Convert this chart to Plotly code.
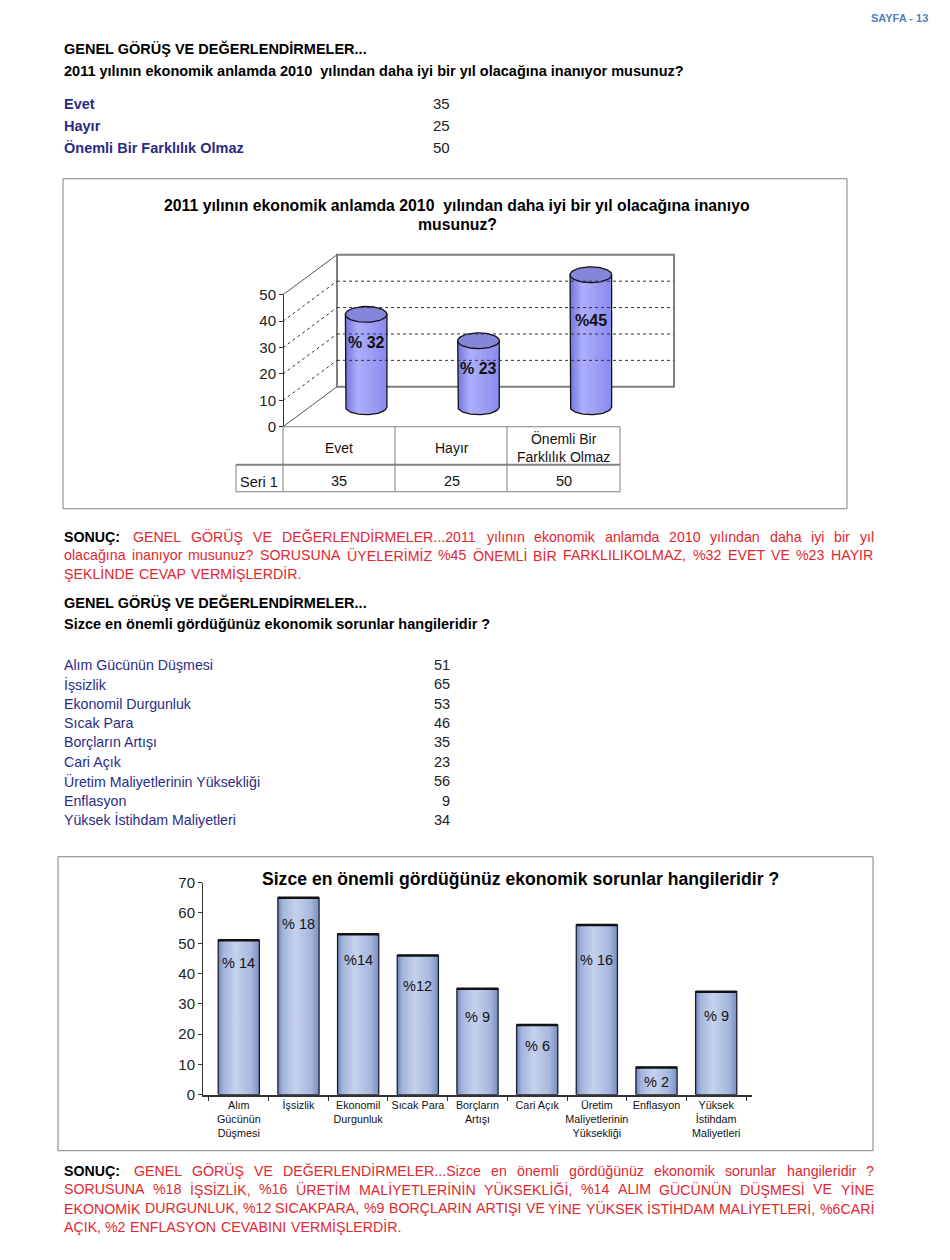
import numpy as np
import plotly.graph_objects as go

# ---- data ----
answers = ["Evet", "Hayır", "Önemli Bir Farklılık Olmaz"]
answer_cells = ["Evet", "Hayır", "Önemli Bir<br>Farklılık Olmaz"]
answer_values = [35, 25, 50]
answer_pct = ["% 32", "% 23", "%45"]

problems = ["Alım Gücünün Düşmesi", "İşsizlik", "Ekonomil Durgunluk", "Sıcak Para",
            "Borçların Artışı", "Cari Açık", "Üretim Maliyetlerinin Yüksekliği",
            "Enflasyon", "Yüksek İstihdam Maliyetleri"]
problem_ticks = ["Alım<br>Gücünün<br>Düşmesi", "İşsizlik", "Ekonomil<br>Durgunluk", "Sıcak Para",
                 "Borçların<br>Artışı", "Cari Açık", "Üretim<br>Maliyetlerinin<br>Yüksekliği",
                 "Enflasyon", "Yüksek<br>İstihdam<br>Maliyetleri"]
problem_values = [51, 65, 53, 46, 35, 23, 56, 9, 34]
problem_pct = ["% 14", "% 18", "%14", "%12", "% 9", "% 6", "% 16", "% 2", "% 9"]

sonuc1 = ["GENEL GÖRÜŞ VE DEĞERLENDİRMELER...2011 yılının ekonomik anlamda 2010 yılından daha iyi bir yıl",
          "olacağına inanıyor musunuz? SORUSUNA ÜYELERİMİZ %45 ÖNEMLİ BİR FARKLILIKOLMAZ, %32 EVET VE %23 HAYIR",
          "ŞEKLİNDE CEVAP VERMİŞLERDİR."]
sonuc2 = ["GENEL GÖRÜŞ VE DEĞERLENDİRMELER...Sizce en önemli gördüğünüz ekonomik sorunlar hangileridir ?",
          "SORUSUNA %18 İŞSİZLİK, %16 ÜRETİM MALİYETLERİNİN YÜKSEKLİĞİ, %14 ALIM GÜCÜNÜN DÜŞMESİ VE YİNE",
          "EKONOMİK DURGUNLUK, %12 SICAKPARA, %9 BORÇLARIN ARTIŞI VE YİNE YÜKSEK İSTİHDAM MALİYETLERİ, %6CARİ",
          "AÇIK,  %2 ENFLASYON CEVABINI VERMİŞLERDİR."]

W, H = 950, 1260
ARIAL = "Liberation Sans, Arial"
RED = "#e3262f"
NAVY = "#2b2b85"

# Arial advance widths (1/1000 em), used only to justify the paragraphs
AW = {" ": 278, ".": 278, ",": 278, ":": 278, "?": 556, "%": 889, "ı": 278, "İ": 278, "I": 278,
      "i": 222, "j": 222, "l": 222, "f": 278, "t": 278, "r": 333, "c": 500, "ç": 500, "k": 500,
      "s": 500, "ş": 500, "v": 500, "x": 500, "y": 500, "z": 500, "m": 833, "w": 722,
      "M": 833, "W": 944, "C": 722, "Ç": 722, "D": 722, "H": 722, "N": 722, "R": 722, "U": 722,
      "Ü": 722, "G": 778, "Ğ": 778, "O": 778, "Ö": 778, "Q": 778, "F": 611, "T": 611, "Z": 611,
      "L": 556, "J": 500}


def tw(s, size):
    return sum(AW.get(ch, 667 if ch.isupper() else 556) for ch in s) * size / 1000


# page pixel -> paper fraction (the page puts the figure a little lower/right than its origin)
OFF_X, OFF_Y, SY = 8.0, 16.2, 0.9866


def X(p):
    return (p - OFF_X) / W


def Y(p):
    return 1 - ((p - OFF_Y) / SY) / H


annotations = []
shapes = []


def txt(x, y, s, size=13, color="black", xanchor="left", bold=False):
    if bold:
        s = "<b>" + s + "</b>"
    annotations.append(dict(x=X(x), y=Y(y), xref="paper", yref="paper", text=s, showarrow=False,
                            xanchor=xanchor, yanchor="middle", align="center" if xanchor == "center" else "left",
                            font=dict(size=size, color=color, family=ARIAL)))


def line(x0, y0, x1, y1, color="#808080", width=1, dash="solid"):
    shapes.append(dict(type="line", xref="paper", yref="paper", x0=X(x0), y0=Y(y0), x1=X(x1), y1=Y(y1),
                       line=dict(color=color, width=width, dash=dash)))


def rect(x0, y0, x1, y1, color="#808080", width=1):
    shapes.append(dict(type="rect", xref="paper", yref="paper", x0=X(x0), y0=Y(y0), x1=X(x1), y1=Y(y1),
                       line=dict(color=color, width=width), layer="below"))


def paragraph(lines, y0, size=14.2, step=18.7, x0=63, x1=873):
    for k, ln in enumerate(lines):
        words = ln.split()
        yy = y0 + step * k
        if k == 0:
            words = ["SONUÇ:"] + words
        if k == len(lines) - 1:
            gap = tw(" ", size) * 1.1
        else:
            widths = [tw(w, size) * (1.08 if (k == 0 and j == 0) else 1.0) for j, w in enumerate(words)]
            gap = (x1 - x0 - sum(widths)) / (len(words) - 1)
        xx = x0
        for j, w in enumerate(words):
            bold = k == 0 and j == 0
            txt(xx - 1, yy, w, size, "black" if bold else RED, bold=bold)
            xx += tw(w, size) * (1.08 if bold else 1.0) + gap


fig = go.Figure()

# ---- page header ----
txt(930, 17, "SAYFA - 13", 11, "#4f81bd", xanchor="right", bold=True)
txt(62, 48, "GENEL GÖRÜŞ VE DEĞERLENDİRMELER...", 14.5, bold=True)
txt(62, 70, "2011 yılının ekonomik anlamda 2010  yılından daha iyi bir yıl olacağına inanıyor musunuz?",
    14.5, bold=True)
for k, (a, v) in enumerate(zip(answers, answer_values)):
    yy = 103 + 22 * k
    txt(62, yy, a, 14.5, NAVY, bold=True)
    txt(431, yy, str(v), 15, "#222")

# ---- chart 1 frame ----
rect(63, 178, 847, 508)
txt(457, 205, "2011 yılının ekonomik anlamda 2010  yılından daha iyi bir yıl olacağına inanıyo", 15.8,
    xanchor="center", bold=True)
txt(457, 224, "musunuz?", 15.8, xanchor="center", bold=True)

# back wall and side wall of the 3D frame
rect(337, 254, 674, 386, color="#7f7f7f", width=2)
for k in range(1, 5):
    yb = 386 - 26.4 * k
    line(337, yb, 674, yb, color="#333", width=1, dash="dot")
    line(283, yb + 40, 337, yb, color="#333", width=1, dash="dot")
line(283, 294, 337, 254, color="#555", width=1)
line(283, 426, 337, 386, color="#555", width=1)

# data table under chart 1
line(283, 426, 620, 426)
line(236, 464, 620, 464, width=2)
line(236, 491, 620, 491)
line(236, 464, 236, 491)
for xv in [283, 395, 507, 620]:
    line(xv, 426, xv, 491)
txt(259, 481, "Seri 1", 14.5, "#111", xanchor="center")
for i, (c, v) in enumerate(zip(answer_cells, answer_values)):
    annotations.append(dict(x=i, y=Y(447), xref="x", yref="paper", text=c, showarrow=False,
                            xanchor="center", font=dict(size=14, family=ARIAL, color="#111")))
    annotations.append(dict(x=i, y=Y(480), xref="x", yref="paper", text=str(v), showarrow=False,
                            xanchor="center", font=dict(size=14.5, family=ARIAL, color="#111")))

# cylinders
a, b = 0.185, 3.0
t_bot = np.linspace(np.pi, 0, 40)
t_cap = np.linspace(0, 2 * np.pi, 80)
label_shift = [-28, -28, -46]
for i, v in enumerate(answer_values):
    bx = np.concatenate([[i - a], i + a * np.cos(t_bot), [i + a, i - a]])
    by = np.concatenate([[v], -b * np.sin(t_bot), [v, v]])
    fig.add_trace(go.Scatter(x=bx, y=by, xaxis="x2", yaxis="y2", mode="lines", fill="toself",
                             fillgradient=dict(type="horizontal",
                                               colorscale=[[0, "#7373dc"], [0.3, "#aeaefc"], [1, "#8a8aee"]]),
                             line=dict(color="#111", width=1.3), hoverinfo="skip", showlegend=False))
    fig.add_trace(go.Scatter(x=i + a * np.cos(t_cap), y=v + b * np.sin(t_cap), xaxis="x2", yaxis="y2",
                             mode="lines", fill="toself", fillcolor="#8585dc",
                             line=dict(color="#111", width=1.3), hoverinfo="skip", showlegend=False))
    annotations.append(dict(x=i, y=v, xref="x2", yref="y2", yshift=label_shift[i],
                            text="<b>%s</b>" % answer_pct[i], showarrow=False,
                            font=dict(size=16, family=ARIAL, color="#111")))

# ---- conclusion 1 ----
paragraph(sonuc1, 536, step=18.5)

# ---- section 2 ----
txt(62, 602, "GENEL GÖRÜŞ VE DEĞERLENDİRMELER...", 14.5, bold=True)
txt(62, 623, "Sizce en önemli gördüğünüz ekonomik sorunlar hangileridir ?", 14.5, bold=True)
for k, (p, v) in enumerate(zip(problems, problem_values)):
    yy = 664 + 19.4 * k
    txt(62, yy, p, 14.2, NAVY)
    txt(452, yy, str(v), 14.5, "#222", xanchor="right")

rect(58, 856, 873, 1150)
txt(520, 878, "Sizce en önemli gördüğünüz ekonomik sorunlar hangileridir ?", 17.6, xanchor="center", bold=True)

bar_half = 0.345
bar_shift = [-23, -26, -26, -31, -28, -21, -35, -15, -24]
for i, v in enumerate(problem_values):
    fig.add_trace(go.Scatter(x=[i - bar_half, i - bar_half, i + bar_half, i + bar_half, i - bar_half],
                             y=[0, v, v, 0, 0], xaxis="x3", yaxis="y3", mode="lines", fill="toself",
                             fillgradient=dict(type="horizontal",
                                               colorscale=[[0, "#6f84b8"], [0.12, "#a2b4db"], [0.42, "#c6d2ec"],
                                                           [0.8, "#a6b8de"], [1, "#7a8ec0"]]),
                             line=dict(color="#1c1c30", width=1.3), hoverinfo="skip", showlegend=False))
    annotations.append(dict(x=i, y=v, xref="x3", yref="y3", yshift=bar_shift[i], text=problem_pct[i],
                            showarrow=False, font=dict(size=14.5, family=ARIAL, color="#111")))
# dark top edge of each bar
fig.add_trace(go.Scatter(
    x=[p for i in range(len(problem_values)) for p in (i - bar_half, i + bar_half, None)],
    y=[p for v in problem_values for p in (v, v, None)],
    xaxis="x3", yaxis="y3", mode="lines", line=dict(color="#111", width=2.5),
    hoverinfo="skip", showlegend=False))

# ---- conclusion 2 ----
paragraph(sonuc2, 1170, step=18.7)

xs = list(range(len(problem_values)))
fig.update_layout(
    width=W, height=H, margin=dict(l=0, r=0, t=0, b=0),
    paper_bgcolor="white", plot_bgcolor="rgba(0,0,0,0)",
    annotations=annotations, shapes=shapes,
    # chart 1: front axis + table columns
    xaxis=dict(domain=[X(283), X(620)], range=[-0.5, 2.5], visible=False),
    yaxis=dict(domain=[Y(426), Y(294)], range=[0, 50], dtick=10, anchor="free", position=X(283),
               showline=True, linecolor="#333", ticks="outside", ticklen=4, tickcolor="#333",
               showgrid=False, zeroline=False, tickfont=dict(size=15, family=ARIAL, color="#222")),
    # chart 1: cylinders (middle depth)
    xaxis2=dict(domain=[X(310), X(647)], range=[-0.5, 2.5], visible=False, anchor="y2"),
    yaxis2=dict(domain=[Y(426), Y(254)], range=[-7.576, 57.576], visible=False, anchor="x2"),
    # chart 2
    xaxis3=dict(domain=[X(203), X(752)], range=[-0.6, 8.6], anchor="y3", tickvals=xs, ticktext=problem_ticks,
                showline=True, linecolor="#333", linewidth=1.5, ticks="", showgrid=False, zeroline=False,
                minor=dict(ticks="outside", tick0=-0.5, dtick=1, ticklen=5, tickcolor="#333"),
                tickfont=dict(size=10.8, family=ARIAL, color="#111")),
    yaxis3=dict(domain=[Y(1094), Y(882)], range=[0, 70], dtick=10, anchor="x3",
                showline=True, linecolor="#333", ticks="outside", ticklen=4, tickcolor="#333",
                showgrid=False, zeroline=False, tickfont=dict(size=15, family=ARIAL, color="#222")),
)

fig.write_html("out.html", config={"displayModeBar": False})
